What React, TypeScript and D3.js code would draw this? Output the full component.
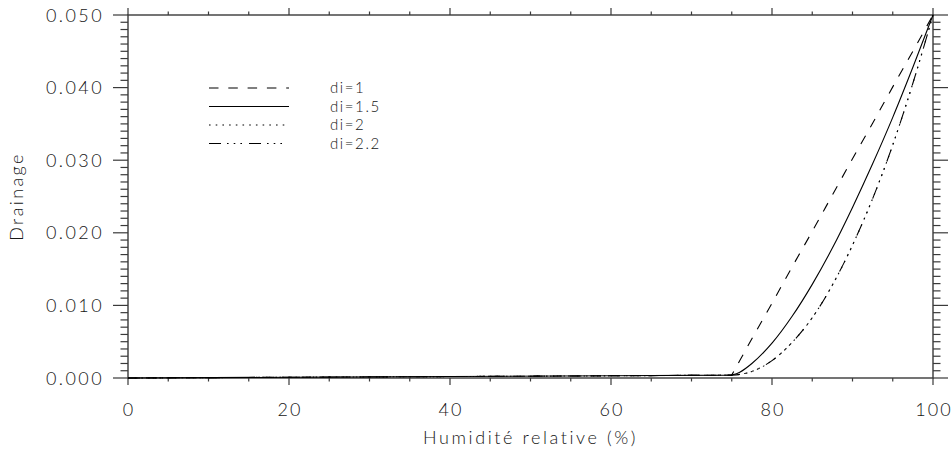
import React from "react";
import * as d3 from "d3";

// Relative humidity (%) sample points
const humidity = [0, 20, 40, 60, 75, 76, 77.5, 80, 82.5, 85, 87.5, 90, 92.5, 95, 97.5, 100];

// Drainage for each exponent di
const drainDi1 = [0, 0.0001, 0.0002, 0.0003, 0.0004, 0.0024, 0.0054, 0.0103, 0.0153, 0.0202, 0.0252, 0.0302, 0.0351, 0.0401, 0.0450, 0.0500];
const drainDi15 = [0, 0.0001, 0.0002, 0.0003, 0.0004, 0.0008, 0.0020, 0.0048, 0.0085, 0.0129, 0.0179, 0.0235, 0.0295, 0.0359, 0.0428, 0.0500];
const drainDi2 = [0, 0.0001, 0.0002, 0.0003, 0.0004, 0.0005, 0.0009, 0.0024, 0.0049, 0.0083, 0.0128, 0.0183, 0.0247, 0.0321, 0.0406, 0.0500];
const drainDi22 = [0, 0.0001, 0.0002, 0.0003, 0.0004, 0.0005, 0.0009, 0.0024, 0.0049, 0.0083, 0.0128, 0.0183, 0.0247, 0.0321, 0.0406, 0.0500];

const legendLabels = ["di=1", "di=1.5", "di=2", "di=2.2"];
const seriesValues = [drainDi1, drainDi15, drainDi2, drainDi22];
const dashPatterns = ["9.5 9.8", "", "1.6 5.1", "12 6 1.6 5.1 1.6 5.1 1.6 7"];

const xMajor = [0, 20, 40, 60, 80, 100];
const yMajor = [0, 0.01, 0.02, 0.03, 0.04, 0.05];

const W = 952;
const H = 450;
const L = 128;
const R = 933;
const T = 15;
const B = 378;
const THRESHOLD = 75;

const FONT = "Lato, 'Liberation Sans', Arial, sans-serif";
const AXIS = "#3a3a3a";
const TEXT = "#161616";

export default function App() {
  const x = d3.scaleLinear().domain([0, 100]).range([L, R]);
  const y = d3.scaleLinear().domain([0, 0.05]).range([B, T]);

  const xMinor = d3.range(0, 100.001, 5);
  const yMinor = d3.range(0, 51).map((i) => i * 0.001);

  type P = [number, number];
  const flat = d3.line<P>().x((d) => x(d[0])).y((d) => y(d[1]));
  const rise = d3
    .line<P>()
    .x((d) => x(d[0]))
    .y((d) => y(d[1]))
    .curve(d3.curveMonotoneX);

  // straight segment up to the threshold, smooth rise after it
  const pathFor = (vals: number[]) => {
    const pts: P[] = humidity.map((h, i) => [h, vals[i]]);
    const low = pts.filter((p) => p[0] <= THRESHOLD);
    const high = pts.filter((p) => p[0] >= THRESHOLD);
    return (flat(low) || "") + (rise(high) || "").replace(/^M/, "L");
  };

  const legendY = [88, 106.5, 125, 143.5];

  return (
    <svg
      width={W}
      height={H}
      style={{ position: "absolute", left: 0, top: 0, background: "#fff" }}
    >
      {/* frame */}
      <rect x={L} y={T} width={R - L} height={B - T} fill="none" stroke={AXIS} strokeWidth={1.4} />

      {/* x ticks: bottom (down) and top (up) */}
      {xMinor.map((v) => {
        const major = v % 20 === 0;
        const len = major ? 7 : 3.5;
        return (
          <g key={"xt" + v} stroke={AXIS} strokeWidth={1.2}>
            <line x1={x(v)} x2={x(v)} y1={B} y2={B + len} />
            <line x1={x(v)} x2={x(v)} y1={T} y2={T - len} />
          </g>
        );
      })}

      {/* y ticks: left and right, both outward */}
      {yMinor.map((v, i) => {
        const major = i % 10 === 0;
        const len = major ? 15 : 7.5;
        return (
          <g key={"yt" + i} stroke={AXIS} strokeWidth={1.2}>
            <line x1={L} x2={L - len} y1={y(v)} y2={y(v)} />
            <line x1={R} x2={R + len} y1={y(v)} y2={y(v)} />
          </g>
        );
      })}

      {/* tick labels */}
      {xMajor.map((v) => (
        <text
          key={"xl" + v}
          x={x(v) + 1}
          y={416}
          textAnchor="middle"
          fontFamily={FONT}
          fontWeight={300}
          fontSize={18}
          letterSpacing={2}
          fill={TEXT}
        >
          {String(v)}
        </text>
      ))}
      {yMajor.map((v) => (
        <text
          key={"yl" + v}
          x={104}
          y={y(v) + 6.5}
          textAnchor="end"
          fontFamily={FONT}
          fontWeight={300}
          fontSize={18}
          letterSpacing={2.4}
          fill={TEXT}
        >
          {v.toFixed(3)}
        </text>
      ))}

      {/* axis titles */}
      <text
        x={(L + R) / 2}
        y={444}
        textAnchor="middle"
        fontFamily={FONT}
        fontWeight={300}
        fontSize={18}
        letterSpacing={2.6}
        fill={TEXT}
      >
        Humidité relative (%)
      </text>
      <text
        transform={`translate(23,${(T + B) / 2}) rotate(-90)`}
        textAnchor="middle"
        fontFamily={FONT}
        fontWeight={300}
        fontSize={18}
        letterSpacing={2.4}
        fill={TEXT}
      >
        Drainage
      </text>

      {/* curves */}
      {seriesValues.map((vals, i) => (
        <path
          key={"s" + i}
          d={pathFor(vals)}
          fill="none"
          stroke="#000"
          strokeWidth={1.1}
          strokeDasharray={dashPatterns[i] || undefined}
        />
      ))}

      {/* legend */}
      {legendLabels.map((lab, i) => (
        <g key={"lg" + i}>
          <line
            x1={209}
            x2={289}
            y1={legendY[i]}
            y2={legendY[i]}
            stroke="#000"
            strokeWidth={1.1}
            strokeDasharray={dashPatterns[i] || undefined}
          />
          <text
            x={330}
            y={legendY[i] + 5}
            fontFamily={FONT}
            fontWeight={300}
            fontSize={15}
            letterSpacing={1.6}
            fill={TEXT}
          >
            {lab}
          </text>
        </g>
      ))}
    </svg>
  );
}
